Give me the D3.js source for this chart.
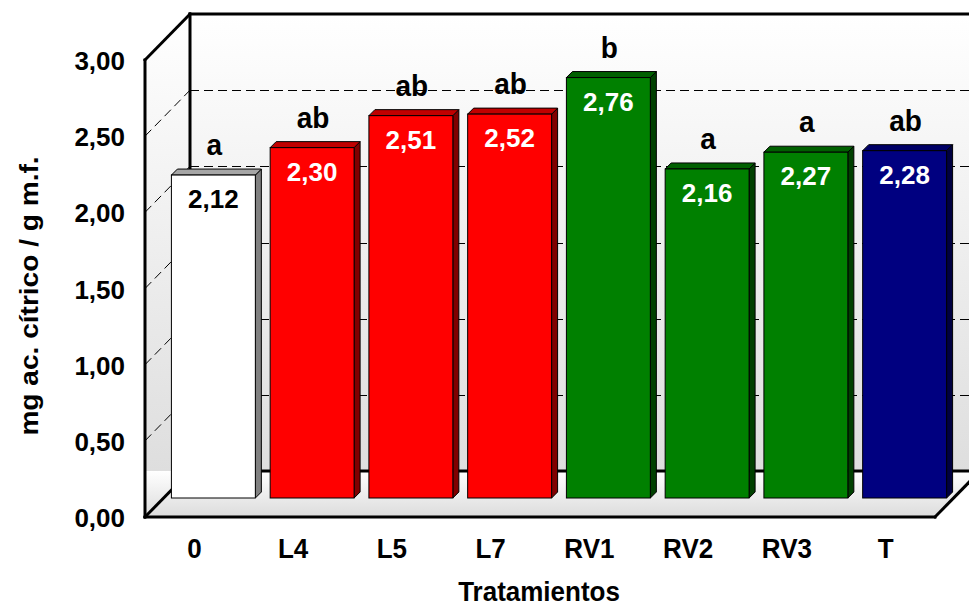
<!DOCTYPE html>
<html>
<head>
<meta charset="utf-8">
<script src="https://cdn.jsdelivr.net/npm/d3@7"></script>
<style>
  body { margin: 0; background: #fff; }
  text { font-family: "Liberation Sans", Arial, sans-serif; font-weight: bold; }
</style>
</head>
<body>
<div id="chart"></div>
<script>
// data
const categories = ["0", "L4", "L5", "L7", "RV1", "RV2", "RV3", "T"];
const values = [2.12, 2.30, 2.51, 2.52, 2.76, 2.16, 2.27, 2.28];
const valueLabels = ["2,12", "2,30", "2,51", "2,52", "2,76", "2,16", "2,27", "2,28"];
const letters = ["a", "ab", "ab", "ab", "b", "a", "a", "ab"];
const yTicks = [0, 0.5, 1, 1.5, 2, 2.5, 3];
const yTickLabels = ["0,00", "0,50", "1,00", "1,50", "2,00", "2,50", "3,00"];

// bar styles (front, top, side)
const barStyles = [
    {front: "#ffffff", top: "#a6a6a6", side: "#808080", text: "#000"},
    {front: "#ff0000", top: "#c00000", side: "#800000", text: "#fff"},
    {front: "#ff0000", top: "#c00000", side: "#800000", text: "#fff"},
    {front: "#ff0000", top: "#c00000", side: "#800000", text: "#fff"},
    {front: "#008000", top: "#006000", side: "#004000", text: "#fff"},
    {front: "#008000", top: "#006000", side: "#004000", text: "#fff"},
    {front: "#008000", top: "#006000", side: "#004000", text: "#fff"},
    {front: "#000080", top: "#000066", side: "#000040", text: "#fff"}
];

var width = 969, height = 608;
var left = 145, right = 935;
var depth = {dx: 45, dy: -46};      // wall depth (oblique)
var shift = {dx: 19, dy: -19};      // bar placement inside the box
var thick = 6;                      // bar depth

var y = d3.scaleLinear().domain([0, 3]).range([517, 60]);
var x = d3.scaleBand().domain(categories).range([left, right])
    .paddingInner(0.15).paddingOuter(0.075);

var svg = d3.select("#chart").append("svg")
    .attr("width", width).attr("height", height);

var defs = svg.append("defs");
var wallGrad = defs.append("linearGradient").attr("id", "wall")
    .attr("gradientUnits", "userSpaceOnUse")
    .attr("x1", 0).attr("y1", y(3) + depth.dy).attr("x2", 0).attr("y2", y(0) + depth.dy);
wallGrad.append("stop").attr("offset", 0).attr("stop-color", "#ffffff");
wallGrad.append("stop").attr("offset", 1).attr("stop-color", "#dedede");
var floorGrad = defs.append("linearGradient").attr("id", "floor")
    .attr("gradientUnits", "userSpaceOnUse")
    .attr("x1", 0).attr("y1", y(0) + depth.dy).attr("x2", 0).attr("y2", y(0));
floorGrad.append("stop").attr("offset", 0).attr("stop-color", "#ffffff");
floorGrad.append("stop").attr("offset", 1).attr("stop-color", "#dcdcdc");

function pts(a) { return a.map(function(p) { return p.join(","); }).join(" "); }
function crisp(v) { return Math.round(v) + 0.5; }

var backY0 = y(0) + depth.dy, backY3 = y(3) + depth.dy;
var backL = left + depth.dx, backR = right + depth.dx;

// walls
svg.append("polygon")
    .attr("points", pts([[left, y(0)], [left, y(3)], [backL, backY3], [backL, backY0]]))
    .attr("fill", "url(#wall)");
svg.append("rect")
    .attr("x", backL).attr("y", backY3)
    .attr("width", backR - backL).attr("height", backY0 - backY3)
    .attr("fill", "url(#wall)");
svg.append("polygon")
    .attr("points", pts([[left, backY0], [backR, backY0], [right, y(0)], [left, y(0)]]))
    .attr("fill", "url(#floor)");

// gridlines on back and side wall
var grid = svg.append("g").attr("stroke", "#000").attr("stroke-width", 1)
    .attr("stroke-dasharray", "9,5").attr("fill", "none");
yTicks.filter(function(v) { return v > 0 && v < 3; }).forEach(function(v) {
    grid.append("line")
        .attr("x1", backL).attr("x2", backR)
        .attr("y1", crisp(y(v) + depth.dy)).attr("y2", crisp(y(v) + depth.dy));
    grid.append("line")
        .attr("x1", left).attr("y1", y(v))
        .attr("x2", backL).attr("y2", y(v) + depth.dy);
});

// back edges of the box
var frame = svg.append("g").attr("stroke", "#000").attr("stroke-width", 3)
    .attr("fill", "none").attr("stroke-linecap", "square");
frame.append("line").attr("x1", backL).attr("y1", backY3).attr("x2", backL).attr("y2", backY0);
frame.append("line").attr("x1", backL).attr("y1", backY0).attr("x2", backR).attr("y2", backY0);
frame.append("line").attr("x1", left).attr("y1", y(0)).attr("x2", backL).attr("y2", backY0);
frame.append("line").attr("x1", right).attr("y1", y(0)).attr("x2", backR).attr("y2", backY0);

// bars
var bars = svg.append("g").selectAll("g.bar")
    .data(categories.map(function(c, i) {
        return {cat: c, value: values[i], label: valueLabels[i], letter: letters[i], style: barStyles[i]};
    }))
    .enter().append("g").attr("class", "bar");

bars.each(function(d) {
    var g = d3.select(this);
    var x0 = x(d.cat) + shift.dx, w = x.bandwidth();
    var yTop = y(d.value) + shift.dy, yBase = y(0) + shift.dy;
    g.append("polygon")
        .attr("points", pts([[x0 + w, yTop], [x0 + w + thick, yTop - thick], [x0 + w + thick, yBase - thick], [x0 + w, yBase]]))
        .attr("fill", d.style.side).attr("stroke", "#000").attr("stroke-width", 1)
        .attr("stroke-linejoin", "round");
    g.append("polygon")
        .attr("points", pts([[x0, yTop], [x0 + thick, yTop - thick], [x0 + w + thick, yTop - thick], [x0 + w, yTop]]))
        .attr("fill", d.style.top).attr("stroke", "#000").attr("stroke-width", 1)
        .attr("stroke-linejoin", "round");
    g.append("rect")
        .attr("x", x0).attr("y", yTop).attr("width", w).attr("height", yBase - yTop)
        .attr("fill", d.style.front).attr("stroke", "#000").attr("stroke-width", 1);
    g.append("text")
        .attr("x", x0 + w / 2).attr("y", yTop + 33)
        .attr("text-anchor", "middle").attr("font-size", 26)
        .attr("fill", d.style.text).text(d.label);
    g.append("text")
        .attr("transform", "translate(" + (x0 + w / 2 + thick / 2 - 2) + "," + (yTop - thick - 14) + ") scale(1,1.06)")
        .attr("text-anchor", "middle").attr("font-size", 28)
        .attr("fill", "#000").text(d.letter);
});

// front edges of the box
var front = svg.append("g").attr("stroke", "#000").attr("stroke-width", 3)
    .attr("fill", "none").attr("stroke-linecap", "square");
front.append("line").attr("x1", left).attr("y1", y(3)).attr("x2", left).attr("y2", y(0));
front.append("line").attr("x1", left).attr("y1", y(0)).attr("x2", right).attr("y2", y(0));
front.append("line").attr("x1", left).attr("y1", y(3)).attr("x2", backL).attr("y2", backY3);
front.append("line").attr("x1", backL).attr("y1", backY3).attr("x2", width + 5).attr("y2", backY3);

// y tick labels
svg.append("g").selectAll("text").data(yTicks).enter().append("text")
    .attr("x", 125).attr("y", function(d) { return y(d) + 10; })
    .attr("text-anchor", "end").attr("font-size", 26)
    .text(function(d, i) { return yTickLabels[i]; });

// category labels
svg.append("g").selectAll("text").data(categories).enter().append("text")
    .attr("transform", function(d) {
        return "translate(" + (x(d) + x.bandwidth() / 2) + ",558) scale(1,1.08)";
    })
    .attr("text-anchor", "middle").attr("font-size", 26)
    .text(function(d) { return d; });

// axis titles
svg.append("text")
    .attr("transform", "translate(539,601) scale(1,1.05)")
    .attr("text-anchor", "middle").attr("font-size", 26)
    .text("Tratamientos");
svg.append("text")
    .attr("transform", "translate(38,296) rotate(-90) scale(1.08,1)")
    .attr("text-anchor", "middle").attr("font-size", 26)
    .text("mg ac. cítrico / g m.f.");
</script>
</body>
</html>
